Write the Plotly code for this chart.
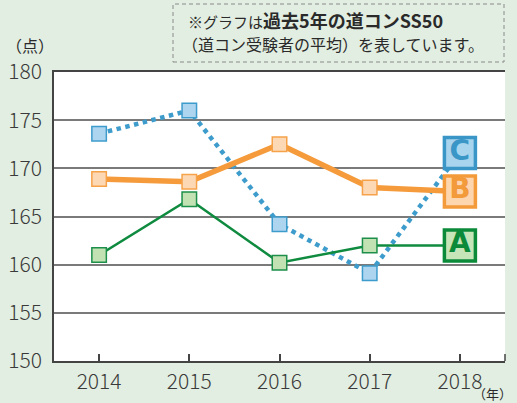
import plotly.graph_objects as go

years = [2014, 2015, 2016, 2017, 2018]
series_names = ["C", "B", "A"]
values_c = [173.6, 176.0, 164.2, 159.1, 171.6]
values_b = [168.9, 168.6, 172.5, 168.0, 167.6]
values_a = [161.0, 166.8, 160.2, 162.0, 162.0]
y_ticks = [150, 155, 160, 165, 170, 175, 180]

FONT = "Noto Sans CJK JP"

styles = {
    "C": dict(line="#3d9ccb", fill="#aed5ef", edge="#3d9ccb", width=4.5, dash="dot",
              lab_fill="#a9d4ee", lab_edge="#3a96c6"),
    "B": dict(line="#f59b3b", fill="#fdd8b5", edge="#f5a24a", width=5.5, dash="solid",
              lab_fill="#fdd6b0", lab_edge="#f39a3a"),
    "A": dict(line="#0f8b3f", fill="#c3e2b4", edge="#1d8f4a", width=2.5, dash="solid",
              lab_fill="#c6e5b8", lab_edge="#0b8a3a"),
}
data = {"C": values_c, "B": values_b, "A": values_a}

fig = go.Figure()
for name in series_names:
    s = styles[name]
    v = data[name]
    fig.add_trace(go.Scatter(
        x=years, y=v, mode="lines+markers",
        line=dict(color=s["line"], width=s["width"], dash=s["dash"]),
        marker=dict(symbol="square", size=[14.5] * 4 + [0], color=s["fill"], opacity=1,
                    line=dict(color=s["edge"], width=1.5)),
        hoverinfo="skip", showlegend=False, cliponaxis=False,
    ))

for name in series_names:
    s = styles[name]
    v = data[name]
    fig.add_trace(go.Scatter(
        x=[years[-1]], y=[v[-1]], mode="markers+text",
        marker=dict(symbol="square", size=31, color=s["lab_fill"], opacity=1,
                    line=dict(color=s["lab_edge"], width=3.5)),
        text=[f"<b>{name}</b>"], textposition="middle center",
        textfont=dict(family="DejaVu Sans", size=28, color=s["lab_edge"]),
        hoverinfo="skip", showlegend=False, cliponaxis=False,
    ))

tickfont = dict(family=FONT, size=21, color="#3a3a3a", weight=300)

fig.update_xaxes(
    range=[2013.5, 2018.5], tickvals=years, ticktext=[str(y) for y in years],
    showgrid=False, zeroline=False, showline=True, mirror=True,
    linecolor="#444", linewidth=1.5,
    ticks="inside", ticklen=7, tickwidth=1.5, tickcolor="#444",
    tickfont=tickfont, ticklabelstandoff=1, automargin=False,
)
fig.update_yaxes(
    range=[150, 180], tickvals=y_ticks, ticktext=[str(t) for t in y_ticks],
    showgrid=True, gridcolor="#7a7a7a", gridwidth=1.5, zeroline=False,
    showline=True, linecolor="#444", linewidth=1.5, ticks="",
    tickfont=tickfont, ticklabelstandoff=6, automargin=False,
)

fig.add_shape(type="line", xref="paper", yref="paper", x0=1, x1=1, y0=0, y1=7/289,
              line=dict(color="#444", width=1.5))
fig.add_shape(type="rect", xref="paper", yref="paper",
              x0=(173 - 54) / 451, x1=(504 - 54) / 451,
              y0=(361 - 62) / 289, y1=(361 - 4) / 289,
              line=dict(color="#8a8a8a", width=1, dash="4px,3px"), fillcolor="rgba(0,0,0,0)")

fig.add_annotation(xref="paper", yref="paper", x=(186 - 54) / 451, y=(361 - 20) / 289,
                   xanchor="left", yanchor="middle", showarrow=False,
                   text="※グラフは<b><span style='font-size:18px'>過去5年の道コンSS50</span></b>",
                   font=dict(family=FONT, size=15, color="#2a2a2a"))
fig.add_annotation(xref="paper", yref="paper", x=(180 - 54) / 451, y=(361 - 44) / 289,
                   xanchor="left", yanchor="middle", showarrow=False,
                   text="（道コン受験者の平均）を表しています。",
                   font=dict(family=FONT, size=16, color="#2a2a2a"))
fig.add_annotation(xref="paper", yref="paper", x=(30 - 54) / 451, y=(361 - 45) / 289,
                   xanchor="center", yanchor="middle", showarrow=False,
                   text="（点）", font=dict(family=FONT, size=16, color="#2a2a2a"))
fig.add_annotation(xref="paper", yref="paper", x=(492 - 54) / 451, y=(361 - 393) / 289,
                   xanchor="center", yanchor="middle", showarrow=False, borderpad=0,
                   text="（年）", font=dict(family=FONT, size=13, color="#2a2a2a"))

fig.update_layout(
    width=517, height=403,
    margin=dict(l=54, r=12, t=72, b=42),
    paper_bgcolor="#e2eee1", plot_bgcolor="#ffffff",
    hovermode=False,
)

fig.write_html("out.html", config={"displayModeBar": False},
               post_script="document.body.style.margin='0';document.body.style.overflow='hidden';")
